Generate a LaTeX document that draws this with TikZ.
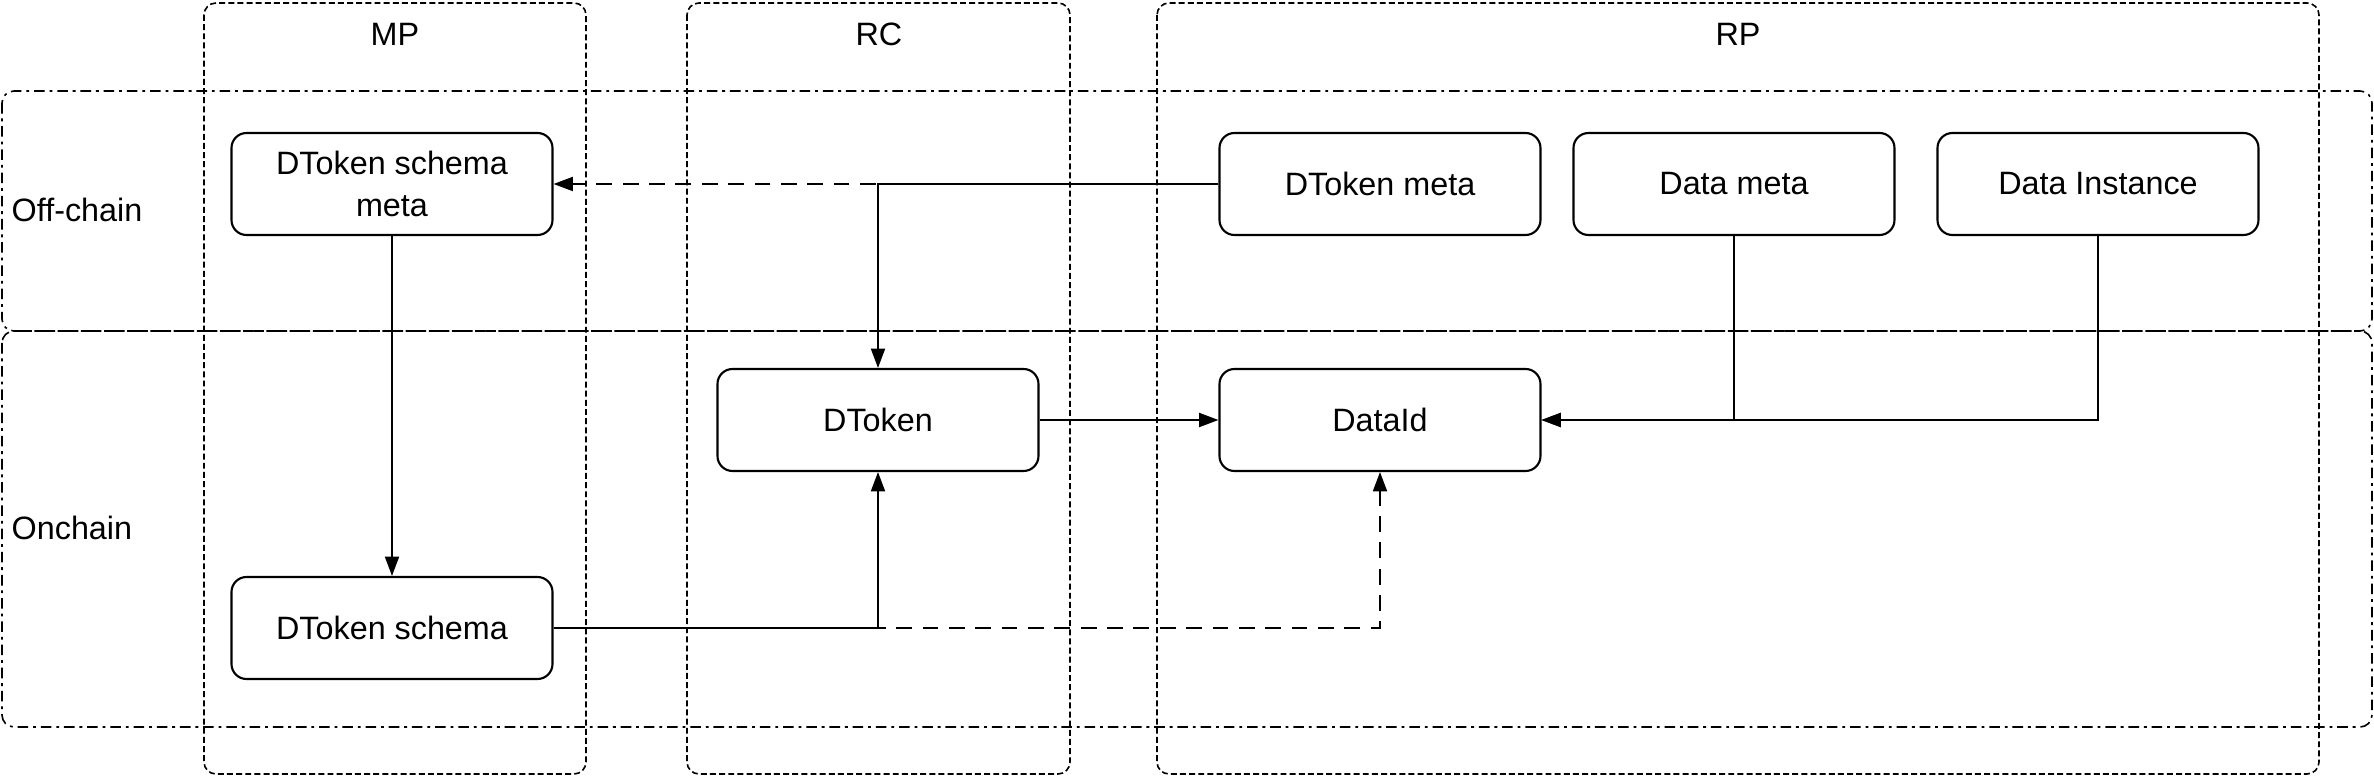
\documentclass[tikz,border=0pt]{standalone}
\usepackage{fontspec}
\setmainfont{Liberation Sans}
\usetikzlibrary{arrows.meta,positioning}

\tikzset{
  box/.style={draw, line width=0.6pt, rounded corners=0.15cm, fill=white,
    minimum width=3.21cm, minimum height=1.02cm, align=center, font=\fontsize{9.2}{12}\selectfont},
  lane/.style={line width=0.45pt, rounded corners=0.12cm, dash pattern=on 1.7pt off 0.9pt},
  layer/.style={line width=0.45pt, rounded corners=0.12cm, dash pattern=on 3pt off 1.4pt on 0.8pt off 1.4pt},
  lanelabel/.style={font=\fontsize{9.2}{12}\selectfont, inner sep=0pt},
  flow/.style={line width=0.5pt, -{Triangle[length=5.5pt,width=4pt]}},
  dflow/.style={flow, dash pattern=on 4.5pt off 3pt},
}

\begin{document}
\begin{tikzpicture}
%
\useasboundingbox (0,0) rectangle (23.74cm,7.76cm);
%
% columns
\draw[lane] (2.04,7.73) rectangle (5.86,0.02);
\draw[lane] (6.87,7.73) rectangle (10.70,0.02);
\draw[lane] (11.57,7.73) rectangle (23.19,0.02);
\node[lanelabel] (mp) at (3.95,7.42) {MP};
\node[lanelabel] (rc) at (8.79,7.42) {RC};
\node[lanelabel] (rp) at (17.38,7.42) {RP};
%
% rows
\draw[layer] (0.02,6.85) rectangle (23.72,4.45);
\draw[layer] (0.02,4.45) rectangle (23.72,0.49);
\node[lanelabel, anchor=west] (offchain) at (0.11,5.66) {Off-chain};
\node[lanelabel, anchor=west] (onchain) at (0.11,2.48) {Onchain};
%
% boxes
\node[box] (dtsm) at (3.92,5.92) {DToken schema\\meta};
\node[box] (dtm) at (13.80,5.92) {DToken meta};
\node[box] (dmeta) at (17.34,5.92) {Data meta};
\node[box] (dinst) at (20.98,5.92) {Data Instance};
\node[box] (dtoken) at (8.78,3.56) {DToken};
\node[box] (dataid) at (13.80,3.56) {DataId};
\node[box] (dts) at (3.92,1.48) {DToken schema};
%
% connectors
\draw[dflow] (dtm.west) -- (dtsm.east);
\draw[flow] (dtm.west) -| (dtoken.north);
\draw[flow] (dtsm.south) -- (dts.north);
\draw[dflow] (dts.east) -| (dataid.south);
\draw[flow] (dts.east) -| (dtoken.south);
\draw[flow] (dtoken.east) -- (dataid.west);
\draw[flow] (dmeta.south) |- (dataid.east);
\draw[flow] (dinst.south) |- (dataid.east);
%
\end{tikzpicture}
\end{document}
